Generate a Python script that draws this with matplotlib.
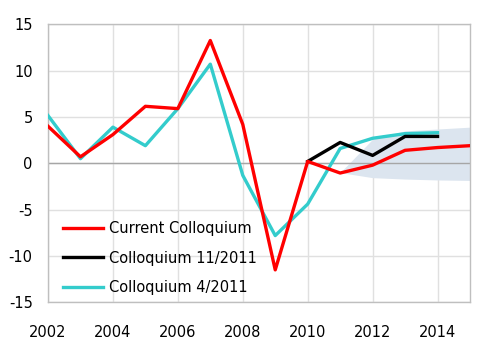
import matplotlib
matplotlib.use("Agg")
import matplotlib.pyplot as plt
import numpy as np

plt.rcParams["axes.unicode_minus"] = False

years_all = list(range(2002, 2016))
current = [4.0, 0.7, 3.1, 6.15, 5.9, 13.25, 4.2, -11.5, 0.2, -1.05, -0.2, 1.4, 1.7, 1.9]

years_nov = [2010, 2011, 2012, 2013, 2014]
nov2011 = [0.2, 2.25, 0.85, 2.9, 2.9]

years_apr = list(range(2002, 2015))
apr2011 = [5.15, 0.5, 3.9, 1.9, 5.9, 10.7, -1.3, -7.8, -4.4, 1.6, 2.7, 3.2, 3.3]

band_years = [2011, 2012, 2013, 2014, 2015]
band_upper = [-1.0, 2.6, 3.5, 3.7, 3.9]
band_lower = [-1.0, -1.55, -1.7, -1.8, -1.85]

xticks = [2002, 2004, 2006, 2008, 2010, 2012, 2014]
yticks = [-15, -10, -5, 0, 5, 10, 15]

fig = plt.figure(figsize=(5.0, 3.53), dpi=100)
ax = fig.add_axes([0.096, 0.1436, 0.844, 0.7876])

ax.fill_between(band_years, band_lower, band_upper, color="#dce5ef", linewidth=0, zorder=1)
ax.axhline(0, color="#a6a6a6", linewidth=1.0, zorder=2)

ax.plot(years_all, current, color="#ff0000", linewidth=2.4, label="Current Colloquium", zorder=5)
ax.plot(years_nov, nov2011, color="#000000", linewidth=2.4, label="Colloquium 11/2011", zorder=4)
ax.plot(years_apr, apr2011, color="#33cccc", linewidth=2.4, label="Colloquium 4/2011", zorder=3)

ax.set_xlim(2002, 2015)
ax.set_ylim(-15, 15)
ax.set_xticks(xticks)
ax.set_yticks(yticks)
ax.grid(True, color="#e0e0e0", linewidth=1.0, zorder=0)
ax.set_axisbelow(True)
ax.tick_params(length=0, labelsize=10.5)
ax.tick_params(axis="y", pad=11)
ax.tick_params(axis="x", pad=16)
for s in ax.spines.values():
    s.set_color("#bfbfbf")
    s.set_linewidth(1.0)

leg = ax.legend(loc="lower left", bbox_to_anchor=(0.0, -0.025), frameon=False,
                fontsize=10.5, handlelength=2.8, handletextpad=0.35, labelspacing=0.97,
                borderaxespad=0.6)

fig.savefig("out.png", dpi=100)
